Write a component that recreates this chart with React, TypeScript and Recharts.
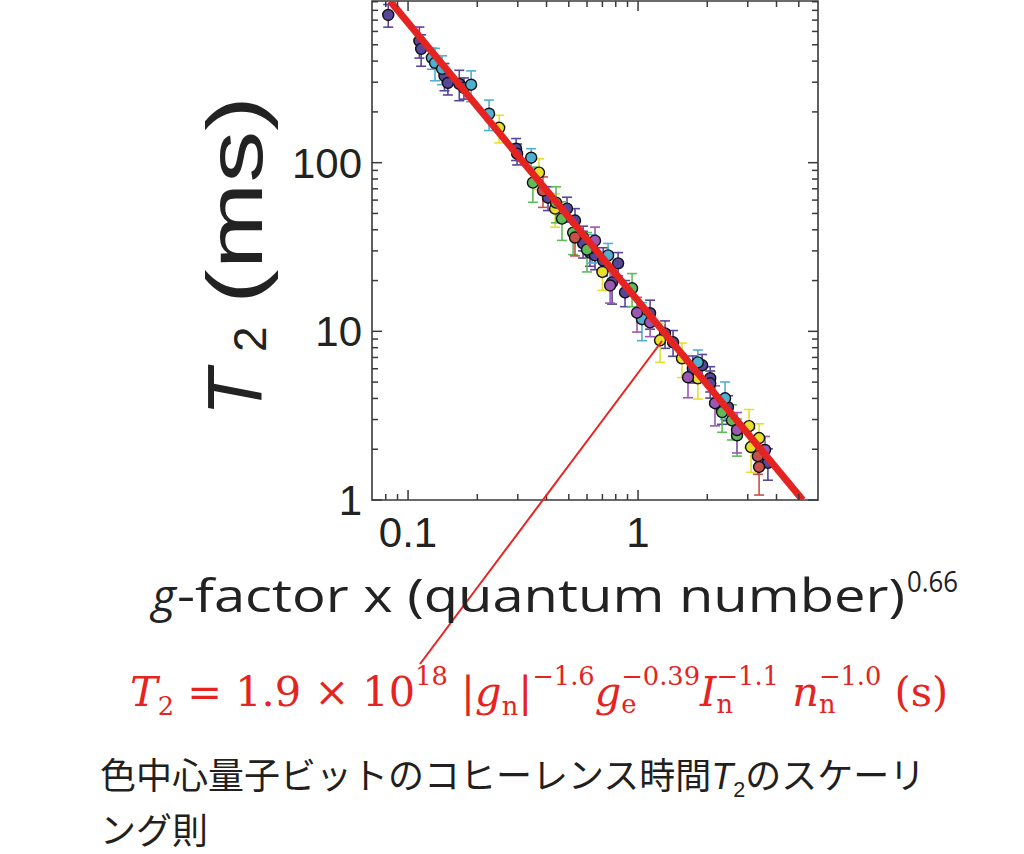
import React from "react";
import { ScatterChart, Scatter, XAxis, YAxis, ErrorBar, ReferenceArea } from "recharts";

// data: [x, T2 (ms), error (ms)]
const indigo = [
  [0.082, 751, 115], [0.112, 527, 110], [0.114, 473, 100], [0.144, 327, 60],
  [0.149, 297, 45], [0.167, 293, 60], [0.175, 278, 40], [0.295, 121, 18],
  [0.298, 113, 16], [0.406, 62, 10], [0.491, 53.4, 9], [0.532, 45.4, 8],
  [0.577, 36, 6], [0.577, 33.2, 6], [0.618, 29.3, 5], [0.65, 28.2, 5],
  [0.705, 26.3, 5], [0.819, 25.3, 4], [0.771, 19.5, 5], [0.878, 17, 3],
  [1.128, 12.8, 2.5], [1.31, 9.73, 1.8], [1.42, 8.61, 1.5], [1.73, 6.04, 1.1],
  [2.06, 5.27, 0.9], [1.9, 6.29, 1.0], [2.06, 4.92, 0.9], [2.32, 3.41, 0.6],
  [2.46, 3.55, 0.6], [3.67, 1.66, 0.35],
];
const violet = [
  [0.65, 34.5, 7], [0.756, 18.7, 4], [0.99, 12.9, 3], [1.128, 11.3, 2],
  [1.649, 5.34, 1.3], [2.161, 3.75, 1], [2.694, 2.6, 0.7], [3.565, 1.98, 0.4],
];
const cyan = [
  [0.127, 418, 60], [0.131, 391, 85], [0.1406, 360, 70], [0.188, 290, 60],
  [0.225, 195, 40], [0.343, 107, 14], [0.631, 31.4, 6], [0.741, 28.2, 5],
  [1.04, 11.8, 3], [1.82, 6.55, 1.2], [2.39, 4.01, 1],
];
const yellow = [
  [0.249, 161, 30], [0.371, 87.3, 18], [0.436, 53.4, 12], [0.7, 22.5, 5],
  [1.247, 8.85, 2.3], [1.553, 6.92, 1.6], [1.82, 5.27, 1.3], [3.04, 2.74, 0.7],
  [3.36, 2.33, 0.5], [3.1, 2.06, 0.6],
];
const green = [
  [0.349, 76.2, 18], [0.44, 58, 14], [0.467, 46.6, 12], [0.522, 38.5, 10],
  [0.6, 30.5, 8], [0.942, 18, 4], [2.32, 3.32, 0.8], [2.56, 2.97, 0.7],
  [2.694, 2.42, 0.6],
];
const red = [
  [0.386, 68.3, 14], [0.532, 36, 8], [3.32, 1.82, 0.4], [3.36, 1.57, 0.5],
];
const fitLine = [
  [0.0835, 909],
  [5.2, 1],
];

const xTicks = [0.08, 0.09, 0.1, 0.2, 0.3, 0.4, 0.5, 0.6, 0.7, 0.8, 0.9, 1, 2, 3, 4, 5];
const xMajor = [0.1, 1];
const yTicks = [1, 2, 3, 4, 5, 6, 7, 8, 9, 10, 20, 30, 40, 50, 60, 70, 80, 90, 100, 200, 300, 400, 500, 600, 700, 800, 900];
const yMajor = [1, 10, 100];
const xDomain = [0.0697, 6.06];
const yDomain = [1, 909];

const groups = [
  { name: "indigo", data: indigo, color: "#57479b" },
  { name: "cyan", data: cyan, color: "#4fb0cf" },
  { name: "yellow", data: yellow, color: "#e6e02c" },
  { name: "green", data: green, color: "#5fbb5a" },
  { name: "red", data: red, color: "#c8504a" },
  { name: "violet", data: violet, color: "#9b57b4" },
];

const TOP = 1;
const BOTTOM = 500;
const LEFT = 372;
const RIGHT = 818;
const AXIS = "#3a3a3a";
const RED = "#e52421";
const LABEL_FONT = "'Liberation Sans', Arial, sans-serif";

const XTick = (p: any) => {
  const v = p.payload.value;
  const major = xMajor.includes(v);
  const len = major ? 10 : 6;
  return (
    <g>
      <line x1={p.x} x2={p.x} y1={BOTTOM} y2={BOTTOM - len} stroke={AXIS} strokeWidth={1.5} />
      <line x1={p.x} x2={p.x} y1={TOP} y2={TOP + len} stroke={AXIS} strokeWidth={1.5} />
      {major && (
        <text x={p.x} y={547} textAnchor="middle" fontSize={42} fill="#222" fontFamily={LABEL_FONT}>
          {String(v)}
        </text>
      )}
    </g>
  );
};

const YTick = (p: any) => {
  const v = p.payload.value;
  const major = yMajor.includes(v);
  const len = major ? 10 : 6;
  return (
    <g>
      <line x1={LEFT} x2={LEFT + len} y1={p.y} y2={p.y} stroke={AXIS} strokeWidth={1.5} />
      <line x1={RIGHT} x2={RIGHT - len} y1={p.y} y2={p.y} stroke={AXIS} strokeWidth={1.5} />
      {major && (
        <text x={362} y={p.y + 15} textAnchor="end" fontSize={42} fill="#222" fontFamily={LABEL_FONT}>
          {String(v)}
        </text>
      )}
    </g>
  );
};

const dot = (color: string) => (p: any) =>
  <circle cx={p.cx} cy={p.cy} r={5.5} fill={color} stroke="#111" strokeWidth={1.4} />;

const small = { fontSize: "0.62em", position: "relative" as const };

function SubSup({ sub, sup }: { sub: string; sup: string }) {
  return (
    <span style={{ position: "relative", display: "inline-block" }}>
      <span style={{ ...small, top: "-0.8em" }}>{sup}</span>
      <span style={{ ...small, position: "absolute", left: 0, top: "0.45em" }}>{sub}</span>
    </span>
  );
}

export default function App() {
  const toPts = (arr: number[][]) => arr.map(([x, y, err]) => ({ x, y, err }));
  const fit = fitLine.map(([x, y]) => ({ x, y }));

  return (
    <div style={{ position: "absolute", left: 0, top: 0, width: 1024, height: 854, background: "#fff" }}>
      <ScatterChart width={1024} height={560} margin={{ top: TOP, right: 1024 - RIGHT, bottom: 0, left: 0 }}>
        <XAxis
          type="number"
          dataKey="x"
          scale="log"
          domain={xDomain}
          allowDataOverflow
          ticks={xTicks}
          interval={0}
          tick={(p: any) => <XTick {...p} />}
          tickLine={false}
          axisLine={false}
          height={60}
        />
        <YAxis
          type="number"
          dataKey="y"
          scale="log"
          domain={yDomain}
          allowDataOverflow
          ticks={yTicks}
          interval={0}
          tick={(p: any) => <YTick {...p} />}
          tickLine={false}
          axisLine={false}
          width={LEFT}
        />
        <ReferenceArea
          x1={xDomain[0]}
          x2={xDomain[1]}
          y1={yDomain[0]}
          y2={yDomain[1]}
          fill="none"
          stroke={AXIS}
          strokeWidth={1.6}
        />
        {groups.map((g) => (
          <Scatter key={g.name} data={toPts(g.data)} shape={dot(g.color)} isAnimationActive={false}>
            <ErrorBar dataKey="err" direction="y" width={5} stroke={g.color} strokeWidth={1.6} />
          </Scatter>
        ))}
        <Scatter
          data={fit}
          line={{ stroke: RED, strokeWidth: 7 }}
          shape={() => <g />}
          isAnimationActive={false}
        />
      </ScatterChart>

      <svg width={1024} height={854} style={{ position: "absolute", left: 0, top: 0, pointerEvents: "none" }}>
        <line x1={662} y1={341} x2={420} y2={664} stroke={RED} strokeWidth={2} />
        <g transform="translate(262,416) rotate(-90)" fontFamily={LABEL_FONT} fill="#222">
          <text x={0} y={0} fontSize={77} fontStyle="italic">T</text>
          <text x={64} y={4} fontSize={46}>2</text>
          <text x={112} y={0} fontSize={77} textLength={208} lengthAdjust="spacingAndGlyphs">(ms)</text>
        </g>
        <g fontFamily="'Open Sans', 'Noto Sans', sans-serif" fill="#222">
          <text x={152} y={612} fontSize={46} fontStyle="italic">g</text>
          <text x={177} y={612} fontSize={46} textLength={728} lengthAdjust="spacingAndGlyphs">
            -factor x (quantum number)
          </text>
          <text x={907} y={592} fontSize={30} textLength={51} lengthAdjust="spacingAndGlyphs">0.66</text>
        </g>
      </svg>

      <div
        style={{
          position: "absolute",
          left: 130,
          top: 668,
          color: RED,
          fontFamily: "'DejaVu Serif', 'Liberation Serif', serif",
          fontSize: 41.5,
          lineHeight: "48px",
          whiteSpace: "nowrap",
        }}
      >
        <i>T</i>
        <span style={{ ...small, top: "0.35em" }}>2</span>
        {" = 1.9 × 10"}
        <span style={{ ...small, top: "-0.8em" }}>18</span>
        {" |"}
        <i>g</i>
        <span style={{ ...small, top: "0.35em" }}>n</span>
        {"|"}
        <span style={{ ...small, top: "-0.8em" }}>−1.6</span>
        <i>g</i>
        <SubSup sub="e" sup="−0.39" />
        <i>I</i>
        <SubSup sub="n" sup="−1.1" />
        {" "}
        <i>n</i>
        <SubSup sub="n" sup="−1.0" />
        {" (s)"}
      </div>

      <div
        style={{
          position: "absolute",
          left: 100,
          top: 750,
          color: "#231f20",
          fontFamily: "'Noto Sans CJK JP', sans-serif",
          fontSize: 36,
          lineHeight: "46px",
          whiteSpace: "nowrap",
        }}
      >
        色中心量子ビットのコヒーレンス時間<i style={{ fontFamily: LABEL_FONT }}>T</i>
        <span style={{ fontSize: "0.6em", position: "relative", top: "0.35em", fontFamily: LABEL_FONT }}>2</span>
        のスケーリ
        <br />
        ング則
      </div>
    </div>
  );
}
